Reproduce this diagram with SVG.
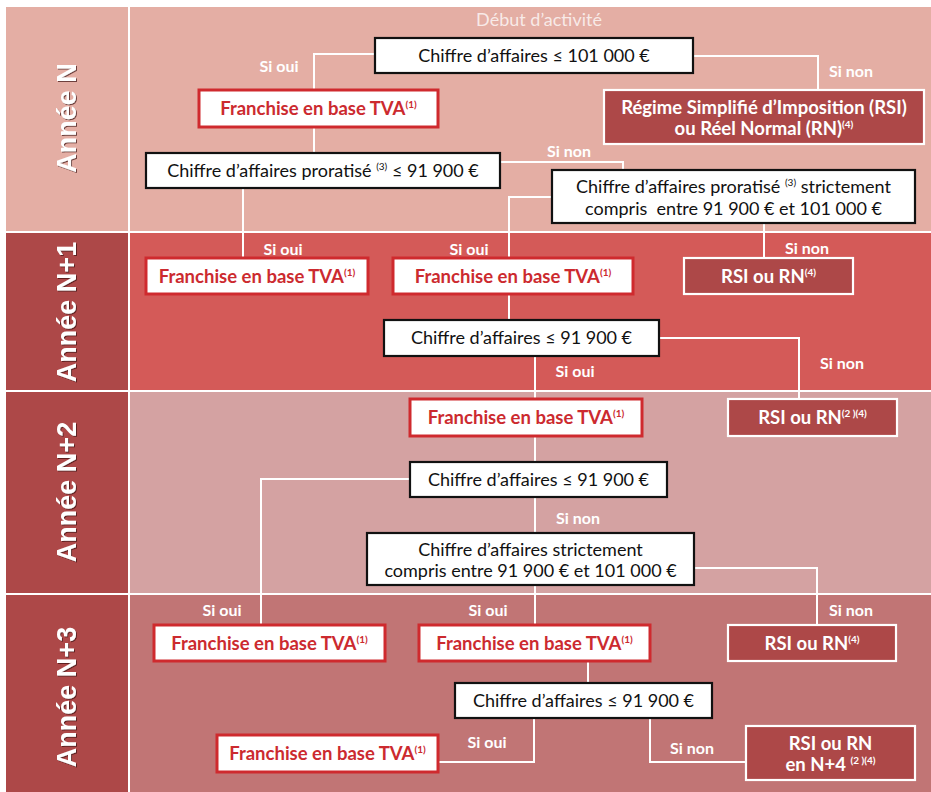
<svg xmlns="http://www.w3.org/2000/svg" width="931" height="792" viewBox="0 0 931 792">
<defs>
<filter id="sh" x="-20%" y="-20%" width="140%" height="140%">
<feDropShadow dx="1" dy="1" stdDeviation="0.6" flood-color="#3a1010" flood-opacity="0.7"/>
</filter>
<style>
.q{fill:#fff;stroke:#111;stroke-width:2.2}
.qt{font-family:Lato,"Noto Sans",sans-serif;font-size:18px;fill:#111;text-anchor:middle}
.f{fill:#fff;stroke:#cf2a2e;stroke-width:3}
.ft{font-family:Lato,"Noto Sans",sans-serif;font-size:18.5px;font-weight:bold;fill:#cc2a2f;text-anchor:middle}
.r{fill:#ad4848;stroke:#fff;stroke-width:2.2}
.rt{font-family:Lato,"Noto Sans",sans-serif;font-size:18.5px;font-weight:bold;fill:#fff;text-anchor:middle}
.sup{font-size:10px}
.lbl{font-family:Lato,"Noto Sans",sans-serif;font-size:16px;font-weight:bold;fill:#fff;text-anchor:middle}
.yr{font-family:"Liberation Sans",Arial,sans-serif;font-size:27px;font-weight:bold;fill:#fff;text-anchor:middle;dominant-baseline:central}
.c path{fill:none;stroke:#fff;stroke-width:2}
</style>
</defs>
<rect width="931" height="792" fill="#fff"/>
<g id="bands">
<rect x="6" y="7" width="122" height="224" fill="#e4aea4"/>
<rect x="130" y="7" width="801" height="224" fill="#e4aea4"/>
<rect x="6" y="233" width="122" height="157" fill="#ad4848"/>
<rect x="130" y="233" width="801" height="157" fill="#d45a58"/>
<rect x="6" y="392" width="122" height="201" fill="#ad4848"/>
<rect x="130" y="392" width="801" height="201" fill="#d4a2a2"/>
<rect x="6" y="595" width="122" height="197" fill="#ad4848"/>
<rect x="130" y="595" width="801" height="197" fill="#c17575"/>
</g>
<g id="years" filter="url(#sh)">
<text class="yr" transform="translate(67 118) rotate(-90)">Année N</text>
<text class="yr" transform="translate(67 312) rotate(-90)">Année N+1</text>
<text class="yr" transform="translate(67 492) rotate(-90)">Année N+2</text>
<text class="yr" transform="translate(67 697) rotate(-90)">Année N+3</text>
</g>
<text x="539" y="26" font-family="Lato,'Noto Sans',sans-serif" font-size="18" fill="#fff" fill-opacity="0.75" text-anchor="middle">Début d’activité</text>
<g class="c" id="connectors">
<path d="M375,54 H314 V90"/>
<path d="M693,56 H818 V90"/>
<path d="M314,127 V153"/>
<path d="M500,162 H623 V170"/>
<path d="M243,188 V258"/>
<path d="M552,197 H509 V258"/>
<path d="M764,223 V258"/>
<path d="M509,294 V320"/>
<path d="M659,338 H799 V399"/>
<path d="M535,356 V399"/>
<path d="M535,436 V462"/>
<path d="M410,479 H261 V625"/>
<path d="M535,497 V533"/>
<path d="M694,568 H817 V625"/>
<path d="M535,585 V625"/>
<path d="M588,661 V683"/>
<path d="M534,718 V762 H438"/>
<path d="M650,718 V762 H746"/>
</g>
<g id="labels">
<text class="lbl" x="279" y="72">Si oui</text>
<text class="lbl" x="851" y="77">Si non</text>
<text class="lbl" x="569" y="157">Si non</text>
<text class="lbl" x="283" y="255">Si oui</text>
<text class="lbl" x="469" y="255">Si oui</text>
<text class="lbl" x="807" y="254">Si non</text>
<text class="lbl" x="842" y="369">Si non</text>
<text class="lbl" x="575" y="377">Si oui</text>
<text class="lbl" x="578" y="524">Si non</text>
<text class="lbl" x="222" y="616">Si oui</text>
<text class="lbl" x="488" y="616">Si oui</text>
<text class="lbl" x="851" y="616">Si non</text>
<text class="lbl" x="487" y="748">Si oui</text>
<text class="lbl" x="692" y="754">Si non</text>
</g>
<g id="n1"><rect class="q" x="375" y="38" width="318" height="35"/><text class="qt" x="534" y="62">Chiffre d’affaires ≤ 101 000 €</text></g>
<g id="f1"><rect class="f" x="199" y="90" width="239" height="37"/><text class="ft" x="318.5" y="115">Franchise en base TVA<tspan class="sup" dy="-7">(1)</tspan></text></g>
<g id="rsi1"><rect class="r" x="604" y="90" width="320" height="54"/><text class="rt" x="764" y="114">Régime Simplifié d’Imposition (RSI)</text><text class="rt" x="764" y="135">ou Réel Normal (RN)<tspan class="sup" dy="-7">(4)</tspan></text></g>
<g id="p1"><rect class="q" x="146" y="153" width="354" height="35"/><text class="qt" x="323" y="177">Chiffre d’affaires proratisé <tspan class="sup" dy="-7">(3)</tspan><tspan dy="7"> ≤ 91 900 €</tspan></text></g>
<g id="s1"><rect class="q" x="552" y="170" width="363" height="53"/><text class="qt" x="733.5" y="193">Chiffre d’affaires proratisé <tspan class="sup" dy="-7">(3)</tspan><tspan dy="7"> strictement</tspan></text><text class="qt" x="733.5" y="215" xml:space="preserve">compris  entre 91 900 € et 101 000 €</text></g>
<g id="f2a"><rect class="f" x="146" y="258" width="222" height="36"/><text class="ft" x="257" y="283">Franchise en base TVA<tspan class="sup" dy="-7">(1)</tspan></text></g>
<g id="f2b"><rect class="f" x="393" y="258" width="240" height="36"/><text class="ft" x="513" y="283">Franchise en base TVA<tspan class="sup" dy="-7">(1)</tspan></text></g>
<g id="rsi2"><rect class="r" x="684" y="258" width="169" height="36"/><text class="rt" x="768.5" y="283">RSI ou RN<tspan class="sup" dy="-7">(4)</tspan></text></g>
<g id="c2"><rect class="q" x="384" y="320" width="275" height="36"/><text class="qt" x="521.5" y="344">Chiffre d’affaires ≤ 91 900 €</text></g>
<g id="f3"><rect class="f" x="410" y="399" width="232" height="37"/><text class="ft" x="526" y="424">Franchise en base TVA<tspan class="sup" dy="-7">(1)</tspan></text></g>
<g id="rsi3"><rect class="r" x="728" y="399" width="169" height="37"/><text class="rt" x="812.5" y="424">RSI ou RN<tspan class="sup" dy="-7">(2 )(4)</tspan></text></g>
<g id="c3"><rect class="q" x="410" y="462" width="257" height="35"/><text class="qt" x="538.5" y="486">Chiffre d’affaires ≤ 91 900 €</text></g>
<g id="s3"><rect class="q" x="367" y="533" width="327" height="52"/><text class="qt" x="530.5" y="556">Chiffre d’affaires strictement</text><text class="qt" x="530.5" y="577">compris entre 91 900 € et 101 000 €</text></g>
<g id="f4a"><rect class="f" x="154" y="625" width="231" height="36"/><text class="ft" x="269.5" y="650">Franchise en base TVA<tspan class="sup" dy="-7">(1)</tspan></text></g>
<g id="f4b"><rect class="f" x="419" y="625" width="231" height="36"/><text class="ft" x="534.5" y="650">Franchise en base TVA<tspan class="sup" dy="-7">(1)</tspan></text></g>
<g id="rsi4"><rect class="r" x="728" y="625" width="168" height="36"/><text class="rt" x="812" y="650">RSI ou RN<tspan class="sup" dy="-7">(4)</tspan></text></g>
<g id="c4"><rect class="q" x="455" y="683" width="257" height="35"/><text class="qt" x="583.5" y="707">Chiffre d’affaires ≤ 91 900 €</text></g>
<g id="f4c"><rect class="f" x="217" y="735" width="221" height="37"/><text class="ft" x="327.5" y="760">Franchise en base TVA<tspan class="sup" dy="-7">(1)</tspan></text></g>
<g id="rsi5"><rect class="r" x="746" y="726" width="169" height="54"/><text class="rt" x="830.5" y="750">RSI ou RN</text><text class="rt" x="830.5" y="771">en N+4 <tspan class="sup" dy="-7">(2 )(4)</tspan></text></g>
</svg>
